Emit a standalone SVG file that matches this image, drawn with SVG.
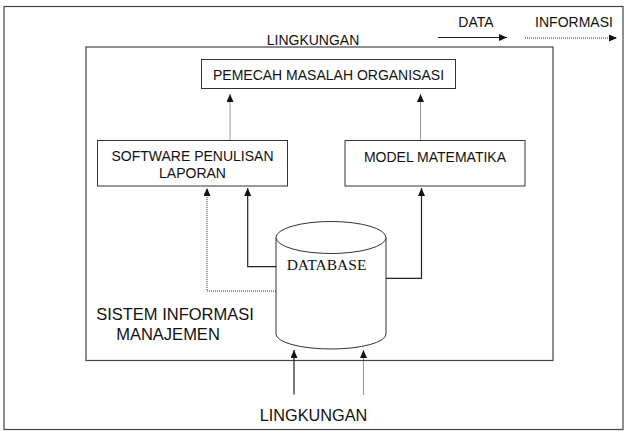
<svg xmlns="http://www.w3.org/2000/svg" width="630" height="435" viewBox="0 0 630 435">
<style>
.frame{fill:none;stroke:#444;stroke-width:1.2}
.box{fill:#fff;stroke:#333;stroke-width:1}
.lbl{font-family:"Liberation Sans",Arial,sans-serif;fill:#111}
.ser{font-family:"Liberation Serif","Times New Roman",serif;fill:#111}
.solid{fill:none;stroke:#222;stroke-width:1.2}
.dot{fill:none;stroke:#333;stroke-width:1;stroke-dasharray:1 1}
</style>
<defs>
<marker id="ah" markerUnits="userSpaceOnUse" markerWidth="9" markerHeight="7" refX="8" refY="3.5" orient="auto">
<path d="M0,0 L8,3.5 L0,7 z" fill="#111"/>
</marker>
</defs>
<rect width="630" height="435" fill="#fff"/>
<rect id="outer" class="frame" x="4" y="6.5" width="619" height="423"/>
<rect id="inner" class="frame" x="86" y="47" width="467" height="313.5"/>
<g id="legend">
<text class="lbl" x="476" y="27" font-size="14" text-anchor="middle">DATA</text>
<text class="lbl" x="574" y="27" font-size="14" text-anchor="middle">INFORMASI</text>
</g>
<text id="lingkungan-top" class="lbl" x="313" y="45" font-size="14" text-anchor="middle">LINGKUNGAN</text>
<text id="lingkungan-bottom" class="lbl" x="313.5" y="421" font-size="16.3" text-anchor="middle">LINGKUNGAN</text>
<g id="sim-label">
<text class="lbl" x="175" y="319.5" font-size="16.5" text-anchor="middle">SISTEM INFORMASI</text>
<text class="lbl" x="168" y="340" font-size="16.5" text-anchor="middle">MANAJEMEN</text>
</g>
<g id="pemecah">
<rect class="box" x="201.5" y="59.5" width="254" height="29"/>
<text class="lbl" x="328.5" y="80" font-size="14" text-anchor="middle">PEMECAH MASALAH ORGANISASI</text>
</g>
<g id="software">
<rect class="box" x="97.5" y="140.5" width="190" height="45.5"/>
<text class="lbl" x="192.5" y="160.7" font-size="14" text-anchor="middle">SOFTWARE PENULISAN</text>
<text class="lbl" x="192.5" y="178.3" font-size="14" text-anchor="middle">LAPORAN</text>
</g>
<g id="model">
<rect class="box" x="345" y="140.5" width="180" height="45.5"/>
<text class="lbl" x="435" y="161.7" font-size="14" text-anchor="middle">MODEL MATEMATIKA</text>
</g>
<g id="database">
<path class="box" d="M276,237.5 L276,334 A55,15 0 0 0 386,334 L386,237.5"/>
<ellipse class="box" cx="331" cy="237.5" rx="55" ry="16"/>
<text class="ser" x="326.5" y="270" font-size="15.5" text-anchor="middle">DATABASE</text>
</g>
<g id="connectors">
<line class="solid" x1="438" y1="37.5" x2="507" y2="37.5" marker-end="url(#ah)"/>
<line class="dot" x1="525" y1="38" x2="617" y2="38" marker-end="url(#ah)"/>
<line class="dot" x1="230" y1="140.5" x2="230" y2="94" marker-end="url(#ah)"/>
<line class="dot" x1="420.5" y1="140.5" x2="420.5" y2="94" marker-end="url(#ah)"/>
<path class="solid" d="M276,266.7 H247.7 V188" marker-end="url(#ah)"/>
<path class="dot" d="M276,291 H207 V188" marker-end="url(#ah)"/>
<path class="solid" d="M386,278.3 H421.5 V188" marker-end="url(#ah)"/>
<line class="solid" x1="294" y1="394.5" x2="294" y2="350" marker-end="url(#ah)"/>
<line class="dot" x1="363.5" y1="394.5" x2="363.5" y2="350" marker-end="url(#ah)"/>
</g>
</svg>
